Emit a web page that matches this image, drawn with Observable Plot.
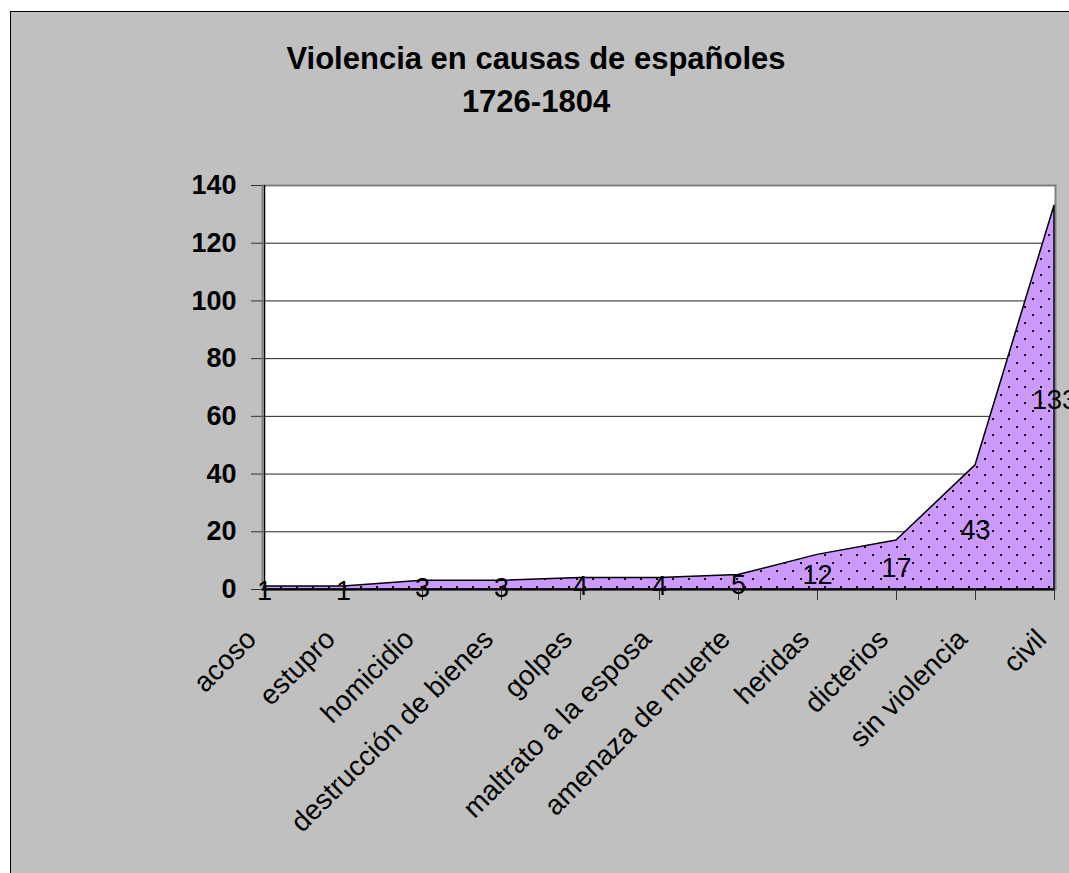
<!DOCTYPE html>
<html>
<head>
<meta charset="utf-8">
<script src="https://cdn.jsdelivr.net/npm/d3@7"></script>
<script src="https://cdn.jsdelivr.net/npm/@observablehq/plot@0.6"></script>
<style>
  html, body { margin: 0; padding: 0; background: #ffffff; overflow: hidden; }
  body { font-family: "Liberation Sans", Arial, sans-serif; width: 1069px; height: 873px; position: relative; }
  #panel { position: absolute; left: 10px; top: 11px; width: 1100px; height: 900px; background: #c0c0c0;
           border-left: 1px solid #000; border-top: 1px solid #000; }
  #chart { position: absolute; left: 0; top: 0; width: 1069px; }
  #title { height: 130px; box-sizing: border-box; padding-top: 37px; padding-left: 3px; text-align: center;
           font-weight: bold; font-size: 31px; line-height: 43px; color: #000; }
  #chart svg { display: block; background: transparent; }
</style>
</head>
<body>
<div id="panel"></div>
<div id="chart">
  <div id="title">Violencia en causas de españoles<br>1726-1804</div>
</div>
<script>
const categories = ["acoso", "estupro", "homicidio", "destrucción de bienes", "golpes",
  "maltrato a la esposa", "amenaza de muerte", "heridas", "dicterios", "sin violencia", "civil"];
const values = [1, 1, 3, 3, 4, 4, 5, 12, 17, 43, 133];
const yTicks = [0, 20, 40, 60, 80, 100, 120, 140];

const data = categories.map((c, i) => ({cat: c, value: values[i]}));

const defsMark = () => {
  const ns = "http://www.w3.org/2000/svg";
  const defs = document.createElementNS(ns, "defs");
  const pat = document.createElementNS(ns, "pattern");
  pat.setAttribute("id", "dots");
  pat.setAttribute("patternUnits", "userSpaceOnUse");
  pat.setAttribute("width", "16");
  pat.setAttribute("height", "16");
  const bg = document.createElementNS(ns, "rect");
  bg.setAttribute("width", "16"); bg.setAttribute("height", "16"); bg.setAttribute("fill", "#cc99ff");
  pat.appendChild(bg);
  [[0, 0], [8, 8]].forEach(([x, y]) => {
    const r = document.createElementNS(ns, "rect");
    r.setAttribute("x", x); r.setAttribute("y", y);
    r.setAttribute("width", "2"); r.setAttribute("height", "2"); r.setAttribute("fill", "#000");
    pat.appendChild(r);
  });
  defs.appendChild(pat);
  return defs;
};

const plot = Plot.plot({
  width: 1069,
  height: 743,
  marginLeft: 262,
  marginRight: 14,
  marginTop: 55,
  marginBottom: 284,
  style: {fontFamily: "'Liberation Sans', Arial, sans-serif", background: "transparent", color: "#000"},
  x: {type: "point", domain: categories, padding: 0, label: null},
  y: {domain: [0, 140], label: null},
  marks: [
    defsMark,
    Plot.frame({fill: "white", stroke: "none"}),
    Plot.ruleY(yTicks.filter(d => d > 0 && d < 140), {stroke: "#222", strokeWidth: 1}),
    Plot.frame({stroke: "#808080", strokeWidth: 2, fill: "none"}),
    Plot.areaY(data, {x: "cat", y: "value", fill: "url(#dots)", stroke: "#000", strokeWidth: 1.5}),
    Plot.ruleX([categories[0]], {stroke: "#000", strokeWidth: 1.5}),
    Plot.ruleY([0], {stroke: "#000", strokeWidth: 2}),
    Plot.axisY({ticks: yTicks, tickSize: 11, tickPadding: 15, fontSize: 27, fontWeight: "bold", stroke: "#333", label: null}),
    Plot.axisX({tickSize: 11, tickFormat: () => "", stroke: "#333", label: null}),
    Plot.text(categories, {x: d => d, y: () => 0, text: d => d, rotate: -45, textAnchor: "end",
      dx: -13, dy: 45, fontSize: 28, fill: "#000"}),
    Plot.text(data, {x: "cat", y: d => d.value / 2, text: d => String(d.value), fontSize: 27, dy: 3, fill: "#000"})
  ]
});

document.getElementById("chart").appendChild(plot);
</script>
</body>
</html>
